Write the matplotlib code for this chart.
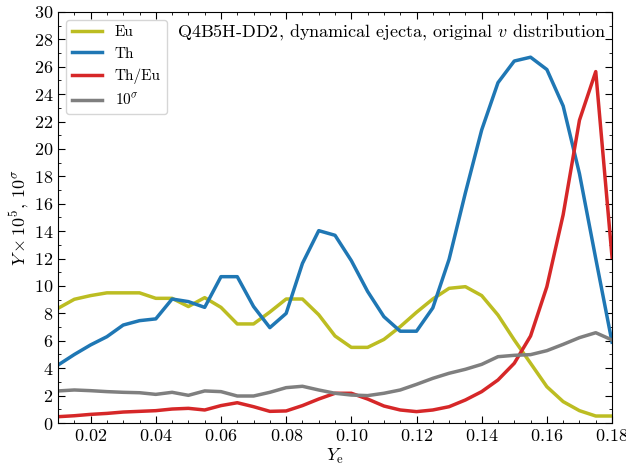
import matplotlib
matplotlib.use('Agg')
import matplotlib.pyplot as plt
import numpy as np
from matplotlib.ticker import MultipleLocator

plt.rcParams['font.family'] = 'serif'
plt.rcParams['font.serif'] = ['cmr10']
plt.rcParams['mathtext.fontset'] = 'cm'
plt.rcParams['axes.formatter.use_mathtext'] = True
plt.rcParams['font.size'] = 13

# electron fraction grid
ye = [0.010, 0.015, 0.020, 0.025, 0.030, 0.035, 0.040, 0.045, 0.050, 0.055,
      0.060, 0.065, 0.070, 0.075, 0.080, 0.085, 0.090, 0.095, 0.100, 0.105,
      0.110, 0.115, 0.120, 0.125, 0.130, 0.135, 0.140, 0.145, 0.150, 0.155,
      0.160, 0.165, 0.170, 0.175, 0.180]

eu = [8.37, 9.03, 9.30, 9.50, 9.50, 9.50, 9.10, 9.10, 8.50, 9.15,
      8.44, 7.23, 7.23, 8.10, 9.05, 9.05, 7.90, 6.35, 5.52, 5.52,
      6.10, 7.03, 8.08, 9.05, 9.83, 9.95, 9.30, 7.88, 6.06, 4.36,
      2.65, 1.56, 0.90, 0.51, 0.51]

th = [4.23, 5.00, 5.70, 6.30, 7.15, 7.47, 7.60, 9.05, 8.86, 8.44,
      10.68, 10.68, 8.50, 6.96, 8.00, 11.65, 14.04, 13.70, 11.85, 9.60,
      7.76, 6.70, 6.70, 8.40, 11.95, 16.80, 21.39, 24.84, 26.42, 26.70,
      25.80, 23.14, 18.20, 12.00, 5.90]

th_eu = [0.46, 0.53, 0.63, 0.70, 0.80, 0.85, 0.90, 1.02, 1.07, 0.95,
         1.27, 1.48, 1.19, 0.85, 0.88, 1.27, 1.75, 2.17, 2.17, 1.75,
         1.24, 0.95, 0.83, 0.95, 1.19, 1.68, 2.29, 3.14, 4.36, 6.35,
         9.95, 15.20, 22.10, 25.65, 12.10]

sigma10 = [2.34, 2.41, 2.36, 2.29, 2.24, 2.21, 2.09, 2.24, 2.02, 2.34,
           2.29, 1.97, 1.97, 2.24, 2.58, 2.68, 2.41, 2.17, 2.04, 2.00,
           2.17, 2.41, 2.82, 3.26, 3.63, 3.92, 4.28, 4.84, 4.94, 4.99,
           5.28, 5.74, 6.23, 6.59, 6.06]

fig = plt.figure(figsize=(6.26, 4.70), dpi=100)
ax = fig.add_axes([0.0927, 0.1, 0.885, 0.8745])

lw = 2.5
ax.plot(ye, eu, color='#bcbd22', lw=lw, label='Eu')
ax.plot(ye, th, color='#1f77b4', lw=lw, label='Th')
ax.plot(ye, th_eu, color='#d62728', lw=lw, label='Th/Eu')
ax.plot(ye, sigma10, color='#7f7f7f', lw=lw, label=r'$10^\sigma$')

ax.set_xlim(0.01, 0.18)
ax.set_ylim(0, 30)
ax.xaxis.set_major_locator(MultipleLocator(0.02))
ax.xaxis.set_minor_locator(MultipleLocator(0.005))
ax.yaxis.set_major_locator(MultipleLocator(2))
ax.yaxis.set_minor_locator(MultipleLocator(1))
ax.tick_params(which='both', direction='in', top=True, right=True)
ax.tick_params(which='major', length=5)
ax.tick_params(which='minor', length=2.5)

ax.set_xlabel(r'$Y_{\rm e}$', labelpad=2)
ax.set_ylabel(r'$Y\times10^5$, $10^\sigma$', labelpad=2)

ax.text(0.99, 0.975, r'Q4B5H-DD2, dynamical ejecta, original $v$ distribution',
        transform=ax.transAxes, ha='right', va='top')
ax.legend(loc='upper left', fontsize=11, handlelength=2.0)

fig.savefig('out.png', dpi=100)
